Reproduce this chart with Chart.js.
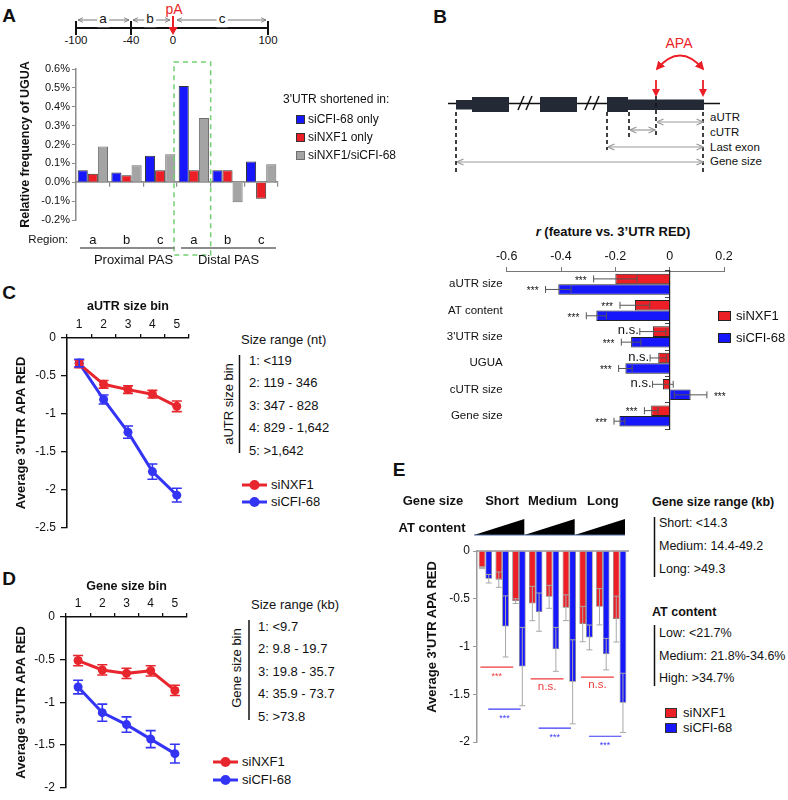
<!DOCTYPE html>
<html><head><meta charset="utf-8">
<script src="https://cdn.jsdelivr.net/npm/chart.js@4.4.1/dist/chart.umd.min.js"></script>
<style>
html,body{margin:0;padding:0;background:#fff;}
#root{position:relative;width:788px;height:800px;overflow:hidden;font-family:'Liberation Sans',Arial,Helvetica,sans-serif;color:#111;}
canvas{position:absolute;}
.t{position:absolute;white-space:nowrap;line-height:1.15;}
#svg{position:absolute;left:0;top:0;}
</style></head><body><div id="root">
<svg id="svg" width="788" height="800" xmlns="http://www.w3.org/2000/svg">
<defs>
<marker id="gh" viewBox="0 0 8 8" refX="7.5" refY="4" markerWidth="8" markerHeight="8" markerUnits="userSpaceOnUse" orient="auto-start-reverse"><path d="M1,1 L7.5,4 L1,7" fill="none" stroke="#9a9a9a" stroke-width="1.2"/></marker>
<marker id="sh" viewBox="0 0 8 8" refX="7.5" refY="4" markerWidth="6" markerHeight="6" markerUnits="userSpaceOnUse" orient="auto-start-reverse"><path d="M1,1 L7.5,4 L1,7" fill="none" stroke="#777" stroke-width="1.2"/></marker>
<marker id="rh" viewBox="0 0 10 10" refX="8" refY="5" markerWidth="9" markerHeight="9" markerUnits="userSpaceOnUse" orient="auto-start-reverse"><path d="M0,0 L10,5 L0,10 z" fill="#ec1f26"/></marker>
</defs>
</svg>
</div>
<script>
// ---------------- DATA ----------------
// Panel A
const regionLabels = ['a','b','c','a','b','c'];
const regionGroups = ['Proximal PAS','Distal PAS'];
const seriesA = ['siCFI-68 only','siNXF1 only','siNXF1/siCFI-68'];
const ugua_siCFI68 = [0.063, 0.052, 0.14, 0.51, 0.064, 0.11];
const ugua_siNXF1  = [0.045, 0.037, 0.064, 0.064, 0.064, -0.088];
const ugua_both    = [0.19, 0.09, 0.148, 0.34, -0.106, 0.095];
const schematicTicks = ['-100','-40','0','100'];
// Panel B
const featuresB = ['aUTR size','AT content',"3'UTR size",'UGUA','cUTR size','Gene size'];
const seriesB = ['siNXF1','siCFI-68'];
const r_siNXF1    = [-0.20, -0.128, -0.062, -0.042, -0.025, -0.068];
const r_siNXF1Err = [0.08, 0.055, 0.048, 0.03, 0.038, 0.025];
const r_siCFI68    = [-0.41, -0.27, -0.142, -0.163, 0.077, -0.185];
const r_siCFI68Err = [0.047, 0.037, 0.036, 0.025, 0.06, 0.02];
const sig_siNXF1_B  = ['***','***','n.s.','n.s.','n.s.','***'];
const sig_siCFI68_B = ['***','***','***','***','***','***'];
// Panel C
const bins = ['1','2','3','4','5'];
const aUTR_siNXF1    = [-0.34, -0.61, -0.68, -0.74, -0.90];
const aUTR_siNXF1Err = [0.05, 0.05, 0.05, 0.05, 0.07];
const aUTR_siCFI68    = [-0.33, -0.81, -1.24, -1.76, -2.07];
const aUTR_siCFI68Err = [0.05, 0.06, 0.08, 0.10, 0.09];
const aUTRRanges = ['1: <119','2: 119 - 346','3: 347 - 828','4: 829 - 1,642','5: >1,642'];
// Panel D
const gene_siNXF1    = [-0.51, -0.62, -0.66, -0.63, -0.86];
const gene_siNXF1Err = [0.06, 0.06, 0.06, 0.06, 0.06];
const gene_siCFI68    = [-0.82, -1.12, -1.26, -1.43, -1.60];
const gene_siCFI68Err = [0.08, 0.10, 0.09, 0.10, 0.11];
const geneRanges = ['1: <9.7','2: 9.8 - 19.7','3: 19.8 - 35.7','4: 35.9 - 73.7','5: >73.8'];
// Panel E
const geneSizeGroups = ['Short','Medium','Long'];
const atLevels = ['Low','Medium','High'];
const E_siNXF1    = [-0.175, -0.30, -0.525, -0.55, -0.48, -0.594, -0.765, -0.584, -0.713];
const E_siNXF1Err = [0.01, 0.08, 0.025, 0.18, 0.12, 0.135, 0.185, 0.19, 0.24];
const E_siCFI68    = [-0.29, -0.79, -1.21, -0.64, -1.03, -1.37, -0.905, -1.08, -1.59];
const E_siCFI68Err = [0.045, 0.32, 0.41, 0.20, 0.23, 0.44, 0.13, 0.165, 0.31];
const sig_siNXF1_E  = ['***','n.s.','n.s.'];
const sig_siCFI68_E = ['***','***','***'];
const geneSizeRanges = ['Short: <14.3','Medium: 14.4-49.2','Long: >49.3'];
const atRanges = ['Low: <21.7%','Medium: 21.8%-34.6%','High: >34.7%'];

// ---------------- SETUP ----------------
const FONT = "'Liberation Sans', Arial, Helvetica, sans-serif";
const RED = '#ec1f26', BLUE = '#1717fb', GRAY = '#a4a4a4';
const REDL = '#e8262d', BLUEL = '#3434f4';
Chart.defaults.font.family = FONT;
Chart.defaults.color = '#111';
Chart.defaults.animation = false;
Chart.defaults.plugins.legend.display = false;
Chart.defaults.plugins.tooltip.enabled = false;
const root = document.getElementById('root');
const svg = document.getElementById('svg');

function mkCanvas(l,t,w,h){
  const c=document.createElement('canvas'); c.width=w; c.height=h;
  c.style.left=l+'px'; c.style.top=t+'px'; c.style.width=w+'px'; c.style.height=h+'px';
  root.appendChild(c); return c;
}
function txt(x,y,s,o={}){
  const d=document.createElement('div'); d.className='t';
  if(o.html) d.innerHTML=s; else d.textContent=s;
  d.style.left=x+'px'; d.style.top=y+'px';
  d.style.fontSize=(o.size||12)+'px'; d.style.fontWeight=o.bold?'bold':'normal';
  d.style.color=o.color||'#111';
  if(o.bg){d.style.background=o.bg; d.style.padding='0 2px';}
  const ax=o.align==='center'?'-50%':(o.align==='right'?'-100%':'0');
  d.style.transform=`translate(${ax},-50%)`+(o.rot?` rotate(${o.rot}deg)`:'');
  root.appendChild(d); return d;
}
function sv(tag,attrs){
  const e=document.createElementNS('http://www.w3.org/2000/svg',tag);
  for(const k in attrs) e.setAttribute(k,attrs[k]);
  svg.appendChild(e); return e;
}
function box(x,y,w,h,color,border){
  const d=document.createElement('div');
  d.style.cssText=`position:absolute;left:${x}px;top:${y}px;width:${w}px;height:${h}px;background:${color};box-sizing:border-box;border:1px solid ${border||'#333'};`;
  root.appendChild(d);
}
function legendLine(x,y,color,label){
  sv('line',{x1:x,y1:y,x2:x+25,y2:y,stroke:color,'stroke-width':3});
  sv('circle',{cx:x+12.5,cy:y,r:5,fill:color});
  txt(x+29,y,label,{size:13});
}

const errPlugin = {
  id:'errbars',
  afterDatasetsDraw(chart){
    const ctx=chart.ctx; const horiz=chart.options.indexAxis==='y';
    chart.data.datasets.forEach((ds,i)=>{
      if(!ds.errors) return;
      const meta=chart.getDatasetMeta(i);
      const vs=horiz?chart.scales[meta.xAxisID]:chart.scales[meta.yAxisID];
      ctx.save(); ctx.strokeStyle=ds.errColor; ctx.lineWidth=ds.errWidth;
      meta.data.forEach((el,j)=>{
        const v=ds.data[j], e=ds.errors[j];
        const a=vs.getPixelForValue(v-e), b=vs.getPixelForValue(v+e), c=ds.errCap;
        ctx.beginPath();
        if(horiz){const y=el.y; ctx.moveTo(a,y);ctx.lineTo(b,y);ctx.moveTo(a,y-c);ctx.lineTo(a,y+c);ctx.moveTo(b,y-c);ctx.lineTo(b,y+c);}
        else{const x=el.x; ctx.moveTo(x,a);ctx.lineTo(x,b);ctx.moveTo(x-c,a);ctx.lineTo(x+c,a);ctx.moveTo(x-c,b);ctx.lineTo(x+c,b);}
        ctx.stroke();
      });
      ctx.restore();
    });
  }
};
const zeroFmt = v => Math.abs(v)<1e-9 ? '0' : String(Math.round(v*10)/10);

// ---------------- PANEL LETTERS ----------------
txt(9,16,'A',{size:19,bold:true,align:'center'});
txt(440,17,'B',{size:19,bold:true,align:'center'});
txt(9,293,'C',{size:19,bold:true,align:'center'});
txt(9,579,'D',{size:19,bold:true,align:'center'});
txt(399,470,'E',{size:19,bold:true,align:'center'});

// ---------------- PANEL A schematic ----------------
const schemX=[76,131,173,268];
sv('line',{x1:76,y1:28,x2:268,y2:28,stroke:'#111','stroke-width':2});
[0,1,3].forEach(i=>sv('line',{x1:schemX[i],y1:21,x2:schemX[i],y2:35,stroke:'#111','stroke-width':2}));
[[78,129],[133,170],[177,266]].forEach(([a,b])=>sv('line',{x1:a,y1:20,x2:b,y2:20,stroke:'#777','stroke-width':1,'marker-start':'url(#sh)','marker-end':'url(#sh)'}));
sv('line',{x1:173,y1:16,x2:173,y2:28,stroke:RED,'stroke-width':2});
sv('polygon',{points:'168.5,27 177.5,27 173,35',fill:RED});
schematicTicks.forEach((s,i)=>txt(schemX[i],41,s,{size:11.5,align:'center'}));
txt(103,19,'a',{size:13.5,align:'center',bg:'#fff'});
txt(150,19,'b',{size:13.5,align:'center',bg:'#fff'});
txt(222,19,'c',{size:13.5,align:'center',bg:'#fff'});
txt(174,9,'pA',{size:14,align:'center',color:RED});

// ---------------- PANEL A chart ----------------
const aExtras={id:'aExtras', afterDraw(chart){
  const {ctx,chartArea:ca}=chart; const x=chart.scales.x, y=chart.scales.y;
  const w=x.getPixelForValue(1)-x.getPixelForValue(0);
  const cx=x.getPixelForValue(3), top=y.getPixelForValue(0.6)-7;
  ctx.save();
  ctx.strokeStyle='#72cf72'; ctx.lineWidth=1.5; ctx.setLineDash([5,4]);
  ctx.strokeRect(cx-w/2-3, top, w+3, ca.bottom+35-top);
  ctx.setLineDash([]);
  ctx.strokeStyle='#8c8c8c'; ctx.lineWidth=2; ctx.fillStyle='#111';
  ctx.font='13px '+FONT; ctx.textAlign='center'; ctx.textBaseline='middle';
  regionGroups.forEach((g,k)=>{
    const l=x.getPixelForValue(k*3)-w/2+4, r=x.getPixelForValue(k*3+2)+w/2-2;
    ctx.beginPath(); ctx.moveTo(l,ca.bottom+28); ctx.lineTo(r,ca.bottom+28); ctx.stroke();
    ctx.fillText(g,(l+r)/2+(k===0?6:0),ca.bottom+40);
  });
  ctx.font='11.5px '+FONT; ctx.textAlign='right';
  ctx.fillText('Region:',68,ca.bottom+20);
  ctx.restore();
}};
new Chart(mkCanvas(0,50,290,225),{
  type:'bar',
  data:{labels:regionLabels,datasets:[
    {label:seriesA[0],data:ugua_siCFI68,backgroundColor:BLUE,borderColor:'#333',borderWidth:1},
    {label:seriesA[1],data:ugua_siNXF1,backgroundColor:RED,borderColor:'#333',borderWidth:1},
    {label:seriesA[2],data:ugua_both,backgroundColor:GRAY,borderColor:'#6e6e6e',borderWidth:1}
  ]},
  options:{responsive:false,devicePixelRatio:1,
    layout:{padding:{top:19,right:12,bottom:25,left:0}},
    datasets:{bar:{categoryPercentage:0.9,barPercentage:1}},
    scales:{
      x:{position:'bottom',grid:{display:false,drawTicks:false},border:{display:false},
         ticks:{font:{size:13},padding:13,autoSkip:false,maxRotation:0},afterFit:s=>{s.height=30;}},
      x2:{axis:'x',type:'category',position:{y:0},offset:true,
         grid:{display:true,drawOnChartArea:false,offset:true,tickLength:4,color:'#8c8c8c',lineWidth:1.2},
         border:{display:true,color:'#8c8c8c',width:1.8},ticks:{display:false},afterFit:s=>{s.height=0;}},
      y:{min:-0.2,max:0.6,
         ticks:{stepSize:0.1,font:{size:11},padding:2,callback:v=>(Math.abs(v)<1e-9?0:v).toFixed(1)+'%'},
         grid:{drawOnChartArea:false,tickLength:4,color:'#8c8c8c'},border:{color:'#8c8c8c',width:1.5},
         title:{display:true,text:'Relative frequency of UGUA',font:{size:12.5,weight:'bold'},padding:{top:18,bottom:0}},
         afterFit:s=>{s.width=76;}}
    }},
  plugins:[aExtras]
});
// legend A
txt(283,100,"3'UTR shortened in:",{size:12});
[[BLUE,'#333'],[RED,'#333'],[GRAY,'#6e6e6e']].forEach((c,i)=>{
  const yc=[119.5,137.5,155.5][i];
  box(296,yc-4.5,9,9,c[0],c[1]);
  txt(308,yc,seriesA[i],{size:12});
});

// ---------------- PANEL B diagram ----------------
const dk='#232a36';
sv('line',{x1:448,y1:103.5,x2:720,y2:103.5,stroke:'#111','stroke-width':1.5});
sv('rect',{x:456,y:100,width:16,height:9.5,fill:dk});
sv('rect',{x:472,y:97,width:37,height:15,fill:dk});
sv('rect',{x:540,y:97,width:37,height:15,fill:dk});
sv('rect',{x:607,y:97,width:21,height:15,fill:dk});
sv('rect',{x:628,y:99.5,width:76,height:10.5,fill:dk});
[[518,524],[526,532],[585,591],[593,599]].forEach(([a,b])=>sv('line',{x1:a,y1:110,x2:b,y2:96,stroke:'#111','stroke-width':1.5}));
[[456,112,174],[607,112,150],[629,112,138],[656,96,137],[703,112,174]].forEach(([x,y1,y2])=>
  sv('line',{x1:x,y1:y1,x2:x,y2:y2,stroke:'#111','stroke-width':1.6,'stroke-dasharray':'4,3'}));
[656,703].forEach(x=>{
  sv('line',{x1:x,y1:80,x2:x,y2:91,stroke:RED,'stroke-width':1.8});
  sv('polygon',{points:`${x-4},89 ${x+4},89 ${x},97`,fill:RED});
});
sv('path',{d:'M657,69 Q680,42 703,69',fill:'none',stroke:RED,'stroke-width':1.8,'marker-start':'url(#rh)','marker-end':'url(#rh)'});
txt(679,43,'APA',{size:14,align:'center',color:RED});
[[657,703,122],[630,655,130],[608,703,147],[457,703,162]].forEach(([a,b,y])=>
  sv('line',{x1:a,y1:y,x2:b,y2:y,stroke:'#9a9a9a','stroke-width':1.2,'marker-start':'url(#gh)','marker-end':'url(#gh)'}));
[['aUTR',118],['cUTR',133],['Last exon',148],['Gene size',162]].forEach(([s,y])=>txt(710,y,s,{size:11.5}));

// ---------------- PANEL B chart ----------------
txt(613,232,'<i>r</i> (feature vs. 3’UTR RED)',{size:13,bold:true,align:'center',html:true});
const bSig={id:'bSig',afterDatasetsDraw(chart){
  const ctx=chart.ctx, xs=chart.scales.x;
  ctx.save(); ctx.fillStyle='#111'; ctx.textBaseline='middle';
  chart.data.datasets.forEach((ds,i)=>{
    chart.getDatasetMeta(i).data.forEach((el,j)=>{
      const s=ds.sig[j], v=ds.data[j], e=ds.errors[j], ns=s==='n.s.';
      ctx.font=(ns?'13px ':'10px ')+FONT;
      const dy=ns?-1:2, gap=ns?1:7;
      if(v>0){ctx.textAlign='left'; ctx.fillText(s,xs.getPixelForValue(v+e)+gap,el.y+dy);}
      else{ctx.textAlign='right'; ctx.fillText(s,xs.getPixelForValue(v-e)-gap,el.y+dy);}
    });
  });
  ctx.restore();
}};
new Chart(mkCanvas(400,240,388,200),{
  type:'bar',
  data:{labels:featuresB,datasets:[
    {label:seriesB[0],data:r_siNXF1,errors:r_siNXF1Err,sig:sig_siNXF1_B,backgroundColor:RED,borderColor:'#222',borderWidth:1,errColor:'#555',errWidth:1,errCap:3.5},
    {label:seriesB[1],data:r_siCFI68,errors:r_siCFI68Err,sig:sig_siCFI68_B,backgroundColor:BLUE,borderColor:'#222',borderWidth:1,errColor:'#555',errWidth:1,errCap:3.5}
  ]},
  options:{responsive:false,devicePixelRatio:1,indexAxis:'y',
    layout:{padding:{top:0,right:64,bottom:9,left:0}},
    datasets:{bar:{categoryPercentage:0.8,barPercentage:1}},
    scales:{
      x:{position:'top',min:-0.6,max:0.2,
         ticks:{stepSize:0.2,font:{size:12.5},padding:3,callback:zeroFmt},
         grid:{drawOnChartArea:false,tickLength:4,color:'#777'},border:{color:'#777',width:1},
         afterFit:s=>{s.height=31;}},
      y:{position:'left',grid:{display:false,drawTicks:false},border:{display:false},
         ticks:{font:{size:11.5},padding:4,autoSkip:false},afterFit:s=>{s.width=106.7;}},
      y0:{axis:'y',type:'category',position:{x:0},offset:true,
         grid:{display:true,drawOnChartArea:false,offset:true,tickLength:4,color:'#444'},
         border:{display:true,color:'#222',width:1.2},ticks:{display:false},afterFit:s=>{s.width=0;}}
    }},
  plugins:[errPlugin,bSig]
});
box(718,311,13,10,RED,'#222'); txt(736,316,seriesB[0],{size:13});
box(718,333,13,10,BLUE,'#222'); txt(736,338,seriesB[1],{size:13});

// ---------------- PANEL C ----------------
function lineOpts(title,ymin,padTop,yW,xH,pad,titlePad){
  return {responsive:false,devicePixelRatio:1,
    layout:{padding:pad},
    scales:{
      x:{position:'top',offset:true,
         grid:{drawOnChartArea:false,offset:true,tickLength:4,color:'#111',lineWidth:1.3},
         border:{color:'#111',width:1.6},
         ticks:{font:{size:12},padding:2,autoSkip:false,maxRotation:0},
         title:{display:true,text:title,font:{size:12.5,weight:'bold'},padding:{top:titlePad,bottom:0}},
         afterFit:s=>{s.height=xH;}},
      y:{min:ymin,max:0,
         ticks:{stepSize:0.5,font:{size:12},padding:5,callback:zeroFmt},
         grid:{drawOnChartArea:false,tickLength:6,color:'#111',lineWidth:1.3},
         border:{color:'#111',width:1.6},
         title:{display:true,text:"Average 3'UTR APA RED",font:{size:13,weight:'bold'},padding:{top:padTop,bottom:0}},
         afterFit:s=>{s.width=yW;}}
    }};
}
function lineDs(label,data,err,color){
  return {label,data,errors:err,borderColor:color,backgroundColor:color,pointBackgroundColor:color,
    pointBorderWidth:0,pointRadius:4.5,borderWidth:3,tension:0,errColor:color,errWidth:1.6,errCap:5};
}
new Chart(mkCanvas(0,295,200,245),{
  type:'line',
  data:{labels:bins,datasets:[
    lineDs(seriesB[0],aUTR_siNXF1,aUTR_siNXF1Err,REDL),
    lineDs(seriesB[1],aUTR_siCFI68,aUTR_siCFI68Err,BLUEL)]},
  options:lineOpts('aUTR size bin',-2.5,14,67,43,{top:0,right:11,bottom:9,left:0},4),
  plugins:[errPlugin]
});
txt(241,340,'Size range (nt)',{size:13});
sv('line',{x1:239.5,y1:355,x2:239.5,y2:453,stroke:'#111','stroke-width':1.5});
txt(229,404,'aUTR size bin',{size:13,align:'center',rot:-90});
aUTRRanges.forEach((s,i)=>txt(249,[361,383,406,428,451][i],s,{size:13}));
legendLine(242,485,REDL,seriesB[0]);
legendLine(242,502,BLUEL,seriesB[1]);

// ---------------- PANEL D ----------------
new Chart(mkCanvas(0,570,200,230),{
  type:'line',
  data:{labels:bins,datasets:[
    lineDs(seriesB[0],gene_siNXF1,gene_siNXF1Err,REDL),
    lineDs(seriesB[1],gene_siCFI68,gene_siCFI68Err,BLUEL)]},
  options:lineOpts('Gene size bin',-2,14,66,47,{top:0,right:13,bottom:8,left:0},9.5),
  plugins:[errPlugin]
});
txt(251,605,'Size range (kb)',{size:13});
sv('line',{x1:249,y1:620,x2:249,y2:720,stroke:'#111','stroke-width':1.5});
txt(237,668,'Gene size bin',{size:13,align:'center',rot:-90});
geneRanges.forEach((s,i)=>txt(258,[627,649,672,694,717][i],s,{size:13}));
legendLine(213,762,REDL,seriesB[0]);
legendLine(213,780,BLUEL,seriesB[1]);

// ---------------- PANEL E ----------------
const categoriesE = geneSizeGroups.flatMap(g=>atLevels.map(a=>g+' / '+a));
const eExtras={id:'eExtras',afterDraw(chart,args,opts){
  const {ctx,chartArea:ca}=chart; const x=chart.scales.x, y=chart.scales.y;
  const w=x.getPixelForValue(1)-x.getPixelForValue(0), x0=x.getPixelForValue(0), n=atLevels.length;
  ctx.save();
  geneSizeGroups.forEach((g,k)=>{
    const l=x.getPixelForValue(k*n)-w/2, r=x.getPixelForValue(k*n+n-1)+w/2;
    ctx.fillStyle='#111'; ctx.font='bold 13px '+FONT; ctx.textAlign='center'; ctx.textBaseline='middle';
    ctx.fillText(g,(l+r)/2,ca.top-50);
    ctx.beginPath(); ctx.moveTo(l-3,ca.top-16); ctx.lineTo(r-3,ca.top-16); ctx.lineTo(r-3,ca.top-32); ctx.closePath();
    ctx.fillStyle='#000'; ctx.fill();
    ctx.strokeStyle='#4a6aa0'; ctx.lineWidth=1; ctx.beginPath(); ctx.moveTo(l-3,ca.top-16); ctx.lineTo(r-3,ca.top-16); ctx.stroke();
    opts.sets.forEach(st=>{
      const a=x0+(k*n+st.from)*w, b=x0+(k*n+st.to)*w, yy=y.getPixelForValue(st.levels[k]);
      ctx.strokeStyle=st.color; ctx.lineWidth=1.2;
      ctx.beginPath(); ctx.moveTo(a,yy); ctx.lineTo(b,yy); ctx.stroke();
      const s=st.labels[k]; ctx.fillStyle=st.color;
      ctx.font=(s==='n.s.'?'11.5px ':'9px ')+FONT;
      ctx.fillText(s,(a+b)/2,yy+(s==='n.s.'?8:9));
    });
  });
  ctx.restore();
}};
new Chart(mkCanvas(396,485,244,275),{
  type:'bar',
  data:{labels:categoriesE,datasets:[
    {label:seriesB[0],data:E_siNXF1,errors:E_siNXF1Err,backgroundColor:RED,borderColor:'rgba(90,90,90,0.8)',borderWidth:0.8,errColor:'#a8a8a8',errWidth:1,errCap:3},
    {label:seriesB[1],data:E_siCFI68,errors:E_siCFI68Err,backgroundColor:BLUE,borderColor:'rgba(90,90,90,0.8)',borderWidth:0.8,errColor:'#a8a8a8',errWidth:1,errCap:3}
  ]},
  options:{responsive:false,devicePixelRatio:1,
    layout:{padding:{top:66,right:12,bottom:18,left:0}},
    datasets:{bar:{categoryPercentage:0.8,barPercentage:1}},
    scales:{
      x:{position:'top',grid:{display:false,drawTicks:false},border:{display:true,color:'#b0b0b0',width:2},
         ticks:{display:false},afterFit:s=>{s.height=0;}},
      y:{min:-2,max:0,ticks:{stepSize:0.5,font:{size:12},padding:3,callback:zeroFmt},
         grid:{drawOnChartArea:false,tickLength:4,color:'#999'},border:{color:'#999',width:1.5},
         afterFit:s=>{s.width=81;}}
    },
    plugins:{eExtras:{sets:[
      {color:'#f03a3a',labels:sig_siNXF1_E,levels:[-1.215,-1.34,-1.32],from:-0.3,to:1.66},
      {color:'#3a3af5',labels:sig_siCFI68_E,levels:[-1.655,-1.855,-1.94],from:0.17,to:2.1}
    ]}}},
  plugins:[errPlugin,eExtras]
});
txt(433,501,'Gene size',{size:13,bold:true,align:'center'});
txt(432,528,'AT content',{size:13,bold:true,align:'center'});
txt(432,637,"Average 3'UTR APA RED",{size:13,bold:true,align:'center',rot:-90});
txt(652,502,'Gene size range (kb)',{size:12.5,bold:true});
sv('line',{x1:654.5,y1:517,x2:654.5,y2:577,stroke:'#111','stroke-width':1.5});
geneSizeRanges.forEach((s,i)=>txt(659,[523,546,569][i],s,{size:12.5}));
txt(652,612,'AT content',{size:12.5,bold:true});
sv('line',{x1:654.5,y1:625,x2:654.5,y2:686,stroke:'#111','stroke-width':1.5});
atRanges.forEach((s,i)=>txt(659,[633,656,678][i],s,{size:12.5}));
box(665,708,12,10,RED,'#333'); txt(683,713,seriesB[0],{size:13});
box(665,723,12,10,BLUE,'#333'); txt(683,728,seriesB[1],{size:13});
</script>
</body></html>
